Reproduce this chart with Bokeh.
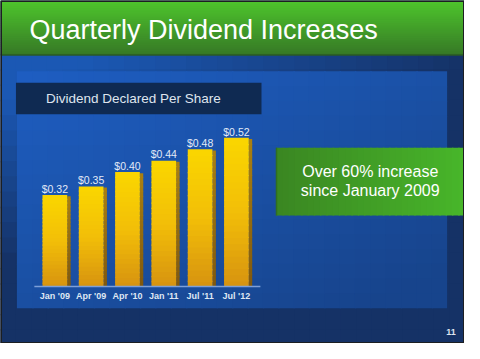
import numpy as np
from bokeh.plotting import figure
from bokeh.models import Range1d
from bokeh.core.properties import value
from bokeh.embed import file_html
from bokeh.resources import INLINE

# ---- data ----
categories = ["Jan '09", "Apr '09", "Apr '10", "Jan '11", "Jul '11", "Jul '12"]
dividends = [0.32, 0.35, 0.40, 0.44, 0.48, 0.52]
value_labels = ["$0.32", "$0.35", "$0.40", "$0.44", "$0.48", "$0.52"]
title_text = "Quarterly Dividend Increases"
subtitle_text = "Dividend Declared Per Share"
callout_lines = ["Over 60% increase", "since January 2009"]
page_number = "11"

FONT = value("Liberation Sans")


def hexc(c):
    return "#%02x%02x%02x" % tuple(int(round(v)) for v in c)


def mix(c1, c2, t):
    return tuple(a + (b - a) * t for a, b in zip(c1, c2))


p = figure(width=464, height=343, x_range=Range1d(0, 480), y_range=Range1d(359, 0),
           output_backend="svg", toolbar_location=None, min_border=0,
           x_axis_location=None, y_axis_location=None, outline_line_color=None,
           background_fill_color="#15336a", border_fill_color="#15336a")
p.xgrid.visible = False
p.ygrid.visible = False
p.extra_x_ranges = {"bx": Range1d(-1.496, 11.28)}
p.extra_y_ranges = {"by": Range1d(-0.1995, 1.0003)}

OV = 1.5  # overlap to hide seams

# ---- slide background (gradient grid) ----
blue_bg = (27, 88, 180)
navy = (21, 50, 102)
L, R, T, B, C = [], [], [], [], []
step = 16
for x0 in range(0, 480, step):
    for y0 in range(56, 359, step):
        xc, yc = x0 + step / 2, y0 + step / 2
        t = np.clip(1.2 * xc / 480 + 1.5 * (yc - 57) / 265 - 0.25, 0, 1)
        L.append(x0); R.append(min(x0 + step + OV, 480)); T.append(y0); B.append(min(y0 + step + OV, 359))
        C.append(hexc(mix(blue_bg, navy, t)))
p.quad(left=L, right=R, top=T, bottom=B, fill_color=C, line_color=None)

# ---- bright blue panel ----
pan_a = (30, 94, 194)
pan_b = (23, 68, 140)
L, R, T, B, C = [], [], [], [], []
px0, px1, py0, py1 = 17, 462, 74, 322
nx, ny = 28, 16
xs = np.linspace(px0, px1, nx + 1)
ys = np.linspace(py0, py1, ny + 1)
for i in range(nx):
    for j in range(ny):
        s = np.clip(((xs[i] + xs[i + 1]) / 2 - px0) / (px1 - px0) * 0.5
                    + ((ys[j] + ys[j + 1]) / 2 - py0) / (py1 - py0) * 0.6, 0, 1)
        L.append(xs[i]); R.append(min(xs[i + 1] + OV, px1))
        T.append(ys[j]); B.append(min(ys[j + 1] + OV, py1))
        C.append(hexc(mix(pan_a, pan_b, s)))
p.quad(left=L, right=R, top=T, bottom=B, fill_color=C, line_color=None)

# ---- header ----
hy = np.linspace(0, 57, 30)
hc = [hexc(mix((78, 198, 44), (54, 120, 38), (k + 0.5) / 29)) for k in range(29)]
p.quad(left=0, right=480, top=hy[:-1], bottom=np.minimum(hy[1:] + OV, 57), fill_color=hc, line_color=None)
p.segment(x0=0, x1=480, y0=57, y1=57, line_color="#2a5a24", line_width=1.5)

# ---- subtitle box ----
p.quad(left=16, right=270, top=86, bottom=119, fill_color="#0f2a52", line_color=None)

# ---- callout box ----
cx = np.linspace(285, 480, 31)
cc = [hexc(mix((58, 134, 34), (72, 182, 42), (k + 0.5) / 30)) for k in range(30)]
p.quad(left=cx[:-1], right=np.minimum(cx[1:] + OV, 480), top=154, bottom=225,
       fill_color=cc, line_color=None)
p.segment(x0=285.5, x1=285.5, y0=154, y1=225, line_color="#2f6e22", line_width=1.5)

# ---- slide border ----
p.quad(left=0.5, right=479.5, top=0.5, bottom=358.5, fill_color=None, line_color="#1c1f22", line_width=2)

# ---- bars (gradient slices) ----
idx = np.arange(len(categories))
vals = np.array(dividends)
face_w = 0.68
n = 24
top_col = (250, 214, 0)
mid_col = (242, 190, 8)
bot_col = (214, 146, 16)
bx, bb, bt, bc = [], [], [], []
sx, sb, st, sc = [], [], [], []
for i, v in zip(idx, vals):
    for k in range(n):
        f = (k + 0.5) / n  # 0 bottom -> 1 top
        if f > 0.5:
            col = mix(mid_col, top_col, (f - 0.5) / 0.5)
        else:
            col = mix(bot_col, mid_col, f / 0.5)
        lo = max(0.0, v * k / n - 0.004)
        bx.append(i); bb.append(lo); bt.append(v * (k + 1) / n); bc.append(hexc(col))
        scol = mix((128, 88, 14), (170, 128, 16), f)
        sx.append(i + face_w / 2 + 0.047); sb.append(lo)
        st.append(min(v * (k + 1) / n, v - 0.004)); sc.append(hexc(scol))
p.vbar(x=sx, width=0.094, bottom=sb, top=st, fill_color=sc, line_color=None,
       x_range_name="bx", y_range_name="by")
p.vbar(x=bx, width=face_w, bottom=bb, top=bt, fill_color=bc, line_color=None,
       x_range_name="bx", y_range_name="by")

# baseline
p.segment(x0=-0.564, x1=5.66, y0=0, y1=0, line_color="#7d9fd8", line_width=1.5,
          x_range_name="bx", y_range_name="by")

# value labels
p.text(x=idx, y=vals + 0.022, text=value_labels, text_align="center", text_baseline="middle",
       text_font=FONT, text_font_size="10.5px", text_color="#e2eaf7",
       x_range_name="bx", y_range_name="by")
# category labels
p.text(x=idx, y=[-0.033] * len(idx), text=categories, text_align="center", text_baseline="middle",
       text_font=FONT, text_font_size="9px", text_font_style="bold", text_color="#dfe7f3",
       x_range_name="bx", y_range_name="by")

# ---- texts ----
p.text(x=[30], y=[31], text=[title_text], text_font=FONT, text_font_size="27px",
       text_color="#ffffff", text_baseline="middle")
p.text(x=[47], y=[103], text=[subtitle_text], text_font=FONT, text_font_size="13.5px",
       text_color="#dfe5ee", text_baseline="middle")
p.text(x=[382.5, 382.5], y=[179, 199], text=callout_lines, text_font=FONT, text_font_size="16px",
       text_color="#ffffff", text_align="center", text_baseline="middle")
p.text(x=[466], y=[347], text=[page_number], text_font=FONT, text_font_size="9px",
       text_font_style="bold", text_color="#dfe5ee", text_align="center", text_baseline="middle")

open("out.html", "w").write(file_html(p, INLINE))
